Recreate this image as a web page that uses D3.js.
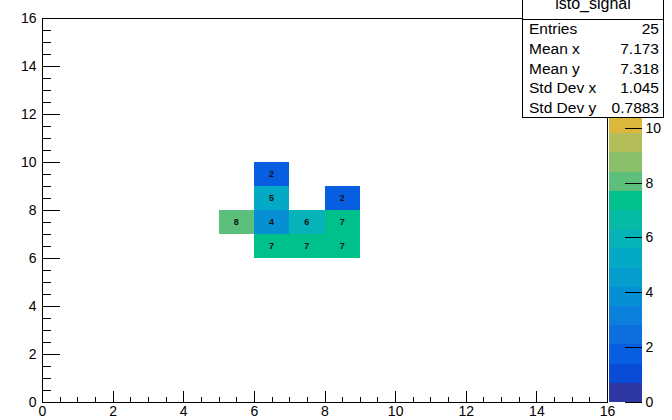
<!DOCTYPE html>
<html>
<head>
<meta charset="utf-8">
<script src="https://cdn.jsdelivr.net/npm/d3@7"></script>
<style>
  html, body { margin: 0; padding: 0; background: #fff; }
  svg { display: block; font-family: "Liberation Sans", Arial, Helvetica, sans-serif; }
</style>
</head>
<body>
<svg id="chart" width="672" height="420"></svg>
<script>
// Histogram cells: low edges of each filled bin and its content
const cellX = [6, 6, 8, 5, 6, 7, 8, 6, 7, 8];
const cellY = [9, 8, 8, 7, 7, 7, 7, 6, 6, 6];
const cellValue = [2, 5, 2, 8, 4, 6, 7, 7, 7, 7];

// Axis ranges and ticks
const xDomain = [0, 16];
const yDomain = [0, 16];
const zDomain = [0, 14];
const xTicks = [0, 2, 4, 6, 8, 10, 12, 14, 16];
const yTicks = [0, 2, 4, 6, 8, 10, 12, 14, 16];
const zTicks = [0, 2, 4, 6, 8, 10];

// Statistics box
const statsTitle = "isto_signal";
const statsNames = ["Entries", "Mean x", "Mean y", "Std Dev x", "Std Dev y"];
const statsValues = ["25", "7.173", "7.318", "1.045", "0.7883"];

// 20-level colour palette (bottom to top)
const paletteColors = [
  "#2e37a3", "#0a4bd6", "#085ee0", "#0c6fdd", "#0b7fd9",
  "#078fd4", "#059dce", "#04a9c6", "#05b3b8", "#06bba5",
  "#00c08c", "#5cbf7c", "#8bc06a", "#b3bd5a", "#dbb73c",
  "#eec232", "#f6cd2a", "#f7da23", "#f6e81c", "#f5f518"
];

const svg = d3.select("#chart");
const frame = { left: 42, right: 607, top: 18, bottom: 402 };
const pal = { left: 609, right: 642 };

const x = d3.scaleLinear().domain(xDomain).range([frame.left, frame.right]);
const y = d3.scaleLinear().domain(yDomain).range([frame.bottom, frame.top]);
const z = d3.scaleLinear().domain(zDomain).range([frame.bottom, frame.top]);
const color = d3.scaleQuantize().domain(zDomain).range(paletteColors);

svg.append("rect").attr("width", 672).attr("height", 420).attr("fill", "#fff");

// Cells
const cells = cellValue.map((v, i) => ({ x0: cellX[i], y0: cellY[i], v }));
svg.append("g").selectAll("rect").data(cells).join("rect")
  .attr("x", d => x(d.x0))
  .attr("y", d => y(d.y0 + 1))
  .attr("width", d => x(d.x0 + 1) - x(d.x0))
  .attr("height", d => y(d.y0) - y(d.y0 + 1))
  .attr("fill", d => color(d.v))
  .attr("shape-rendering", "crispEdges");

svg.append("g").selectAll("text").data(cells).join("text")
  .attr("x", d => x(d.x0 + 0.5))
  .attr("y", d => y(d.y0 + 0.5))
  .attr("dy", "0.35em")
  .attr("text-anchor", "middle")
  .attr("font-size", 9)
  .attr("font-weight", "bold")
  .attr("fill", "#111")
  .text(d => d.v);

// Frame
svg.append("rect")
  .attr("x", frame.left + 0.5).attr("y", frame.top + 0.5)
  .attr("width", frame.right - frame.left).attr("height", frame.bottom - frame.top)
  .attr("fill", "none").attr("stroke", "#000").attr("stroke-width", 1);

function styleAxis(g) {
  g.select(".domain").remove();
  g.selectAll("line").attr("stroke", "#000").attr("shape-rendering", "crispEdges");
  g.selectAll("text").attr("font-size", 14).attr("fill", "#000")
    .attr("font-family", "'Liberation Sans', Arial, sans-serif");
}

const minorX = d3.range(0, 16.01, 0.5);
const minorY = d3.range(0, 16.01, 0.5);

// X axis
svg.append("g").attr("transform", `translate(0,${frame.bottom + 0.5})`)
  .call(d3.axisBottom(x).tickValues(minorX).tickSize(-6).tickFormat(""))
  .call(styleAxis);
svg.append("g").attr("transform", `translate(0,${frame.bottom + 0.5})`)
  .call(d3.axisBottom(x).tickValues(xTicks).tickSize(-11.5).tickPadding(3.5).tickFormat(d3.format("d")))
  .call(styleAxis);

// Y axis
svg.append("g").attr("transform", `translate(${frame.left + 0.5},0)`)
  .call(d3.axisLeft(y).tickValues(minorY).tickSize(-8.5).tickFormat(""))
  .call(styleAxis);
svg.append("g").attr("transform", `translate(${frame.left + 0.5},0)`)
  .call(d3.axisLeft(y).tickValues(yTicks).tickSize(-17).tickPadding(6).tickFormat(d3.format("d")))
  .call(styleAxis);

// Colour palette
const levels = d3.range(paletteColors.length);
const step = (zDomain[1] - zDomain[0]) / paletteColors.length;
svg.append("g").selectAll("rect").data(levels).join("rect")
  .attr("x", pal.left)
  .attr("y", i => z(zDomain[0] + (i + 1) * step))
  .attr("width", pal.right - pal.left)
  .attr("height", i => z(zDomain[0] + i * step) - z(zDomain[0] + (i + 1) * step))
  .attr("fill", i => paletteColors[i])
  .attr("shape-rendering", "crispEdges");

svg.append("g").attr("transform", `translate(${pal.right - 0.5},0)`)
  .call(d3.axisRight(z).tickValues(zTicks).tickSize(-17).tickPadding(4).tickFormat(d3.format("d")))
  .call(styleAxis);

// Statistics box
const sb = { left: 522, right: 664, top: -1, bottom: 117, titleLine: 19 };
const stats = svg.append("g");
stats.append("rect")
  .attr("x", sb.left + 0.5).attr("y", sb.top + 0.5)
  .attr("width", sb.right - sb.left - 1).attr("height", sb.bottom - sb.top)
  .attr("fill", "#fff").attr("stroke", "#000");
stats.append("line")
  .attr("x1", sb.left).attr("x2", sb.right - 1)
  .attr("y1", sb.titleLine + 0.5).attr("y2", sb.titleLine + 0.5)
  .attr("stroke", "#000");
stats.append("text")
  .attr("x", (sb.left + sb.right) / 2).attr("y", 9)
  .attr("text-anchor", "middle").attr("font-size", 16)
  .text(statsTitle);

const rowH = (sb.bottom - sb.titleLine) / statsNames.length;
statsNames.forEach((name, i) => {
  const cy = sb.titleLine + rowH * (i + 0.5);
  stats.append("text").attr("x", sb.left + 7).attr("y", cy).attr("dy", "0.36em")
    .attr("font-size", 15.5).text(name);
  stats.append("text").attr("x", sb.right - 5).attr("y", cy).attr("dy", "0.36em")
    .attr("font-size", 15.5).attr("text-anchor", "end").text(statsValues[i]);
});
</script>
</body>
</html>
